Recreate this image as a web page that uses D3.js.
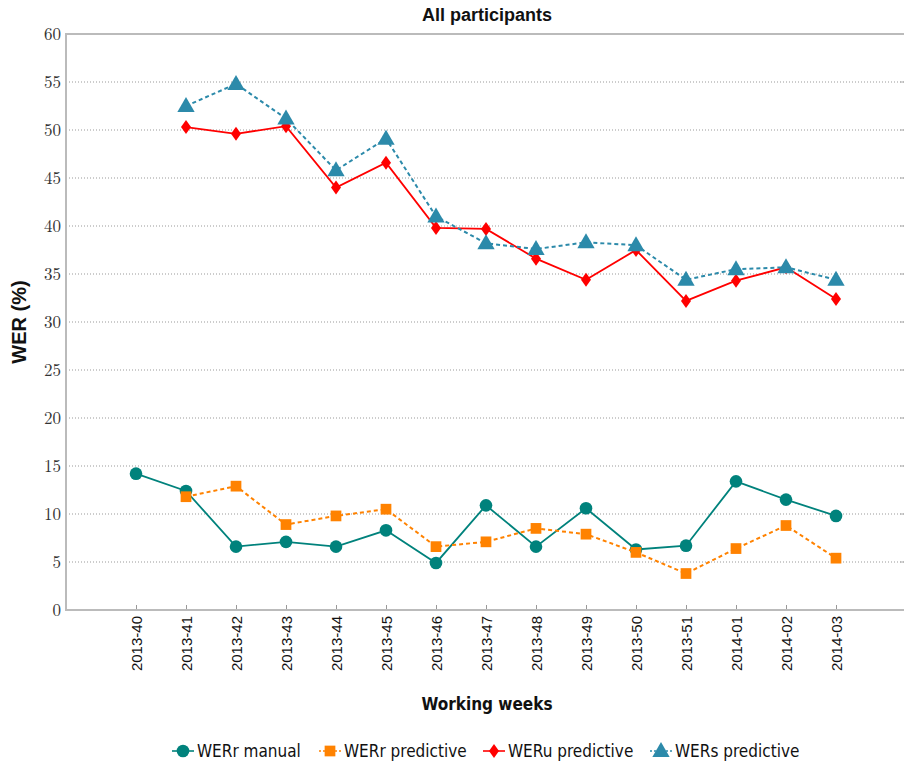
<!DOCTYPE html>
<html>
<head>
<meta charset="utf-8">
<script src="https://cdn.jsdelivr.net/npm/d3@7"></script>
<style>
  html, body { margin: 0; padding: 0; background: #fff; }
  svg { display: block; }
</style>
</head>
<body>
<svg id="chart" width="905" height="769"></svg>
<script>
// Working weeks (x categories)
const weeks = ["2013-40","2013-41","2013-42","2013-43","2013-44","2013-45","2013-46","2013-47",
               "2013-48","2013-49","2013-50","2013-51","2014-01","2014-02","2014-03"];

// WER values per week (null = no measurement)
const werrManual     = [14.2, 12.4, 6.6, 7.1, 6.6, 8.3, 4.9, 10.9, 6.6, 10.6, 6.3, 6.7, 13.4, 11.5, 9.8];
const werrPredictive = [null, 11.8, 12.9, 8.9, 9.8, 10.5, 6.6, 7.1, 8.5, 7.9, 6.0, 3.8, 6.4, 8.8, 5.4];
const weruPredictive = [null, 50.3, 49.6, 50.4, 44.0, 46.6, 39.8, 39.7, 36.6, 34.4, 37.5, 32.2, 34.3, 35.7, 32.4];
const wersPredictive = [null, 52.5, 54.8, 51.2, 45.8, 49.1, 41.0, 38.2, 37.6, 38.3, 38.0, 34.4, 35.5, 35.7, 34.4];

const yTicks = [0, 5, 10, 15, 20, 25, 30, 35, 40, 45, 50, 55, 60];

const series = [
  { name: "WERr manual",     values: werrManual,     color: "#00827c", dash: null,  marker: "circle" },
  { name: "WERr predictive", values: werrPredictive, color: "#ff8200", dash: "4,3", marker: "square" },
  { name: "WERu predictive", values: weruPredictive, color: "#ff0000", dash: null,  marker: "diamond" },
  { name: "WERs predictive", values: wersPredictive, color: "#2c8aaa", dash: "4,3", marker: "triangle" }
];

const svg = d3.select("#chart");
const margin = { left: 66, right: 1, top: 34, bottom: 159 };
const W = 905, H = 769;
const x0 = margin.left, x1 = W - margin.right, y0 = H - margin.bottom, y1 = margin.top;

const x = d3.scaleLinear().domain([-1.4, weeks.length - 1 + 1.36]).range([x0, x1]);
const y = d3.scaleLinear().domain([0, 60]).range([y0, y1]);

const serif = "'Latin Modern Roman','CMU Serif','Liberation Serif','DejaVu Serif',serif";
const sans = "'Liberation Sans','DejaVu Sans',sans-serif";
const narrow = "'Liberation Sans Narrow','DejaVu Sans Condensed','Liberation Sans',sans-serif";

// Horizontal dotted grid
svg.append("g").selectAll("line").data(yTicks.filter(t => t > 0 && t < 60)).join("line")
  .attr("x1", x0).attr("x2", x1)
  .attr("y1", d => y(d)).attr("y2", d => y(d))
  .attr("stroke", "#999").attr("stroke-width", 1).attr("stroke-dasharray", "1,2");

// Y axis labels
const yAxis = d3.axisLeft(y).tickValues(yTicks).tickSize(0).tickPadding(5);
const gy = svg.append("g").attr("transform", `translate(${x0},0)`).call(yAxis);
gy.select(".domain").remove();
gy.selectAll("text").attr("font-family", serif).attr("font-size", 17).attr("fill", "#333");

// Right-side small ticks
svg.append("g").selectAll("line").data(yTicks).join("line")
  .attr("x1", x1 - 4).attr("x2", x1)
  .attr("y1", d => y(d)).attr("y2", d => y(d))
  .attr("stroke", "#aaa");

// X axis
const xAxis = d3.axisBottom(x).tickValues(d3.range(weeks.length)).tickFormat(i => weeks[i])
  .tickSizeInner(-5).tickSizeOuter(0).tickPadding(8);
const gx = svg.append("g").attr("transform", `translate(0,${y0})`).call(xAxis);
gx.select(".domain").remove();
gx.selectAll(".tick line").attr("stroke", "#999");
gx.selectAll("text")
  .attr("font-family", sans).attr("font-size", 15).attr("fill", "#111")
  .attr("transform", "rotate(-90)")
  .attr("text-anchor", "end")
  .attr("x", -6).attr("y", 0).attr("dy", "0.35em");

// Frame: left, top, bottom
const frame = svg.append("g").attr("stroke", "#bbb").attr("stroke-width", 2).attr("fill", "none");
frame.append("path").attr("d", `M${x1},${y1}H${x0}V${y0}H${x1}`);

// Marker shapes
const symbolFor = {
  circle: d3.symbol().type(d3.symbolCircle).size(125),
  square: d3.symbol().type(d3.symbolSquare).size(115),
  triangle: d3.symbol().type(d3.symbolTriangle).size(130)
};
function drawMarker(g, type, cx, cy, color) {
  if (type === "diamond") {
    g.append("path")
      .attr("d", `M${cx},${cy - 7}L${cx + 5},${cy}L${cx},${cy + 7}L${cx - 5},${cy}Z`)
      .attr("fill", color);
  } else {
    g.append("path").attr("d", symbolFor[type]())
      .attr("transform", `translate(${cx},${cy + (type === "triangle" ? 1 : 0)})`)
      .attr("fill", color);
  }
}

// Series lines and markers
const line = d3.line().defined(d => d.v != null).x(d => x(d.i)).y(d => y(d.v));
series.forEach(s => {
  const pts = s.values.map((v, i) => ({ i, v }));
  const g = svg.append("g");
  g.append("path").datum(pts).attr("d", line)
    .attr("fill", "none").attr("stroke", s.color).attr("stroke-width", s.dash ? 2 : 1.8)
    .attr("stroke-dasharray", s.dash);
  pts.filter(d => d.v != null).forEach(d => drawMarker(g, s.marker, x(d.i), y(d.v), s.color));
});

// Title and axis titles
svg.append("text").attr("x", 487).attr("y", 21)
  .attr("text-anchor", "middle").attr("font-family", sans).attr("font-weight", "bold")
  .attr("font-size", 18).attr("fill", "#111").text("All participants");

svg.append("text").attr("transform", `translate(26,${(y0 + y1) / 2}) rotate(-90)`)
  .attr("text-anchor", "middle").attr("font-family", sans).attr("font-weight", "bold")
  .attr("font-size", 20).attr("fill", "#111").text("WER (%)");

svg.append("text").attr("x", 487).attr("y", 710)
  .attr("text-anchor", "middle").attr("font-family", narrow).attr("font-weight", "bold")
  .attr("font-size", 17).attr("fill", "#111").text("Working weeks");

// Legend
const legendX = [183, 330, 494, 661];
const legendY = 751;
series.forEach((s, k) => {
  const g = svg.append("g");
  const cx = legendX[k];
  g.append("line").attr("x1", cx - 11).attr("x2", cx + 11).attr("y1", legendY).attr("y2", legendY)
    .attr("stroke", s.color).attr("stroke-width", 1.6).attr("stroke-dasharray", s.dash ? "2,2" : null);
  drawMarker(g, s.marker, cx, legendY, s.color);
  g.append("text").attr("x", cx + 14).attr("y", legendY).attr("dy", "0.35em")
    .attr("font-family", narrow).attr("font-size", 17).attr("fill", "#111").text(s.name);
});
</script>
</body>
</html>
